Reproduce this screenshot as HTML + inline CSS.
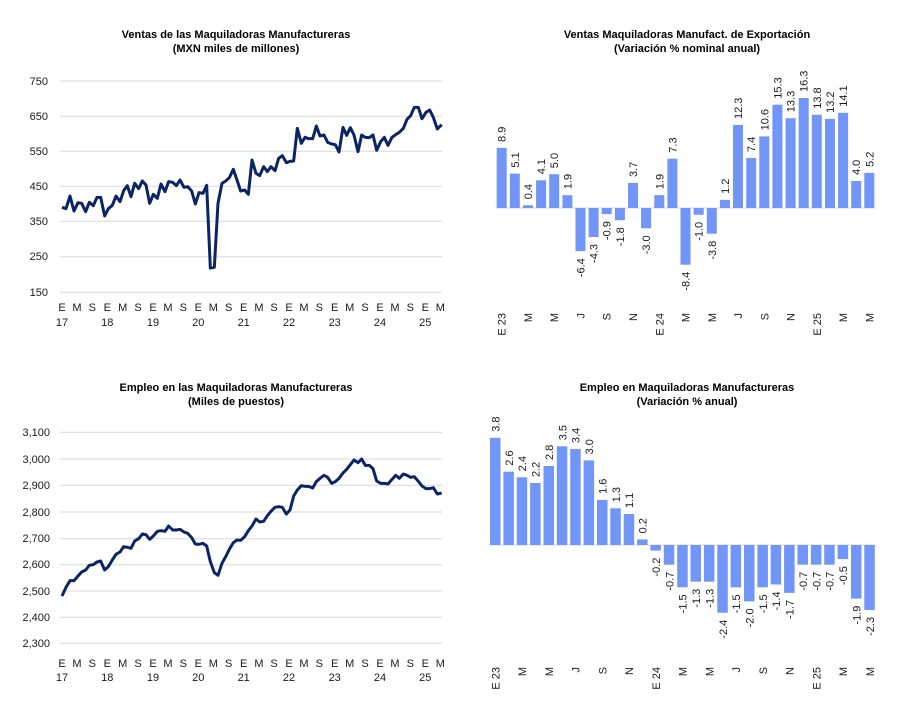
<!DOCTYPE html>
<html><head><meta charset="utf-8"><style>
html,body{margin:0;padding:0;background:#fff;}
svg{display:block;font-family:"Liberation Sans",sans-serif;}
.t{font-size:11px;font-weight:bold;fill:#000;text-anchor:middle;}
.ax{font-size:11px;fill:#1a1a1a;}
.r{text-anchor:end;}
.m{text-anchor:middle;}
.v{font-size:11px;fill:#1a1a1a;}
.b{fill:#7295f8;}
</style></head><body>
<svg width="900" height="708" viewBox="0 0 900 708" xmlns="http://www.w3.org/2000/svg">
<!-- TITLES -->
<text class="t" x="236" y="38">Ventas de las Maquiladoras Manufactureras</text>
<text class="t" x="236" y="52">(MXN miles de millones)</text>
<text class="t" x="687" y="38">Ventas Maquiladoras Manufact. de Exportación</text>
<text class="t" x="687" y="52">(Variación % nominal anual)</text>
<text class="t" x="236" y="391">Empleo en las Maquiladoras Manufactureras</text>
<text class="t" x="236" y="405">(Miles de puestos)</text>
<text class="t" x="687" y="391">Empleo en Maquiladoras Manufactureras</text>
<text class="t" x="687" y="405">(Variación % anual)</text>

<!-- TOP LEFT -->
<g stroke="#d9d9d9" stroke-width="1">
<line x1="60" x2="442" y1="81" y2="81"/><line x1="60" x2="442" y1="116.3" y2="116.3"/><line x1="60" x2="442" y1="151.3" y2="151.3"/><line x1="60" x2="442" y1="186.3" y2="186.3"/><line x1="60" x2="442" y1="221.3" y2="221.3"/><line x1="60" x2="442" y1="256.7" y2="256.7"/><line x1="60" x2="442" y1="292.3" y2="292.3"/>
</g>
<g class="ax r">
<text x="48" y="85">750</text><text x="48" y="120">650</text><text x="48" y="155">550</text><text x="48" y="190">450</text><text x="48" y="225">350</text><text x="48" y="260">250</text><text x="48" y="296">150</text>
</g>
<g transform="translate(0,20) scale(0.33333)">
<polyline fill="none" stroke="#0b2466" stroke-width="9" stroke-linejoin="round" points="186,562 198,566 210,528 222,573 234,548 245,550 257,575 268,547 280,557 291,532 302,532 314,588 325,566 337,556 348,528 360,545 371,512 382,497 393,530 404,490 416,506 427,483 438,495 449,550 460,523 472,535 483,492 495,515 506,485 518,487 529,497 540,480 552,502 563,500 575,513 586,552 597,518 609,520 620,496 631,744 643,742 654,550 666,490 677,483 688,473 700,448 711,480 722,513 734,510 745,523 756,420 768,460 779,467 791,440 802,455 813,440 825,452 836,415 847,407 859,428 870,424 881,423 892,325 904,370 915,352 926,356 938,356 949,318 960,348 972,345 983,367 995,372 1006,374 1017,396 1029,322 1040,346 1051,323 1062,345 1074,395 1085,345 1096,352 1108,353 1119,345 1130,391 1142,365 1153,352 1164,376 1176,352 1187,344 1198,337 1210,325 1221,298 1232,287 1243,262 1255,262 1266,296 1278,277 1289,270 1300,292 1312,327 1325,314"/>
</g>
<g class="ax m">
<text x="62" y="311">E</text><text x="77" y="311">M</text><text x="92.3" y="311">S</text><text x="107.3" y="311">E</text><text x="122.7" y="311">M</text><text x="138" y="311">S</text><text x="153" y="311">E</text><text x="168" y="311">M</text><text x="183.3" y="311">S</text><text x="198.3" y="311">E</text><text x="213.3" y="311">M</text><text x="228.7" y="311">S</text><text x="243.7" y="311">E</text><text x="259" y="311">M</text><text x="274" y="311">S</text><text x="289" y="311">E</text><text x="304" y="311">M</text><text x="319.3" y="311">S</text><text x="334.7" y="311">E</text><text x="349.7" y="311">M</text><text x="365" y="311">S</text><text x="380" y="311">E</text><text x="395" y="311">M</text><text x="410.3" y="311">S</text><text x="425.3" y="311">E</text><text x="440.3" y="311">M</text>
<text x="62" y="326">17</text><text x="107.3" y="326">18</text><text x="153" y="326">19</text><text x="198.3" y="326">20</text><text x="243.7" y="326">21</text><text x="289" y="326">22</text><text x="334.7" y="326">23</text><text x="380" y="326">24</text><text x="425.3" y="326">25</text>
</g>

<!-- BOTTOM LEFT -->
<g stroke="#d9d9d9" stroke-width="1">
<line x1="60" x2="442" y1="432.3" y2="432.3"/><line x1="60" x2="442" y1="459" y2="459"/><line x1="60" x2="442" y1="485.3" y2="485.3"/><line x1="60" x2="442" y1="512" y2="512"/><line x1="60" x2="442" y1="538.7" y2="538.7"/><line x1="60" x2="442" y1="564.7" y2="564.7"/><line x1="60" x2="442" y1="591" y2="591"/><line x1="60" x2="442" y1="617.3" y2="617.3"/><line x1="60" x2="442" y1="643.3" y2="643.3"/>
</g>
<g class="ax r">
<text x="50" y="436">3,100</text><text x="50" y="463">3,000</text><text x="50" y="489">2,900</text><text x="50" y="516">2,800</text><text x="50" y="542">2,700</text><text x="50" y="568">2,600</text><text x="50" y="595">2,500</text><text x="50" y="621">2,400</text><text x="50" y="647">2,300</text>
</g>
<g transform="translate(0,370) scale(0.33333)">
<polyline fill="none" stroke="#0b2466" stroke-width="9" stroke-linejoin="round" points="186,678 198,652 210,632 222,632 234,618 245,606 257,600 268,586 280,584 291,576 302,573 314,600 325,590 337,570 348,553 360,546 371,530 382,532 393,535 404,513 416,506 427,492 438,494 449,508 460,498 472,484 483,482 495,484 506,468 518,480 529,480 540,478 552,486 563,490 575,503 586,522 597,523 609,520 620,528 631,575 643,608 654,616 666,580 677,560 688,538 700,518 711,510 722,511 734,500 745,482 756,468 768,447 779,456 791,454 802,437 813,424 825,412 836,410 847,412 859,432 870,420 881,378 892,360 904,347 915,349 926,349 938,354 949,335 960,325 972,316 983,322 995,340 1006,335 1017,325 1029,309 1040,298 1051,284 1062,270 1074,278 1085,267 1096,286 1108,286 1119,296 1130,333 1142,340 1153,340 1164,342 1176,328 1187,316 1198,325 1210,312 1221,316 1232,322 1243,320 1255,334 1266,348 1278,356 1289,356 1300,353 1312,372 1325,369"/>
</g>
<g class="ax m">
<text x="62" y="667">E</text><text x="77" y="667">M</text><text x="92.3" y="667">S</text><text x="107.3" y="667">E</text><text x="122.7" y="667">M</text><text x="138" y="667">S</text><text x="153" y="667">E</text><text x="168" y="667">M</text><text x="183.3" y="667">S</text><text x="198.3" y="667">E</text><text x="213.3" y="667">M</text><text x="228.7" y="667">S</text><text x="243.7" y="667">E</text><text x="259" y="667">M</text><text x="274" y="667">S</text><text x="289" y="667">E</text><text x="304" y="667">M</text><text x="319.3" y="667">S</text><text x="334.7" y="667">E</text><text x="349.7" y="667">M</text><text x="365" y="667">S</text><text x="380" y="667">E</text><text x="395" y="667">M</text><text x="410.3" y="667">S</text><text x="425.3" y="667">E</text><text x="440.3" y="667">M</text>
<text x="62" y="681">17</text><text x="107.3" y="681">18</text><text x="153" y="681">19</text><text x="198.3" y="681">20</text><text x="243.7" y="681">21</text><text x="289" y="681">22</text><text x="334.7" y="681">23</text><text x="380" y="681">24</text><text x="425.3" y="681">25</text>
</g>

<!-- TOP RIGHT BARS -->
<line x1="495" x2="876" y1="208" y2="208" stroke="#d9d9d9" stroke-width="1"/>
<g class="b">
<rect x="496.7" y="147.9" width="10" height="60.1"/>
<rect x="509.8" y="173.6" width="10" height="34.4"/>
<rect x="523.0" y="205.3" width="10" height="2.7"/>
<rect x="536.1" y="180.3" width="10" height="27.7"/>
<rect x="549.2" y="174.2" width="10" height="33.8"/>
<rect x="562.4" y="195.2" width="10" height="12.8"/>
<rect x="575.5" y="208" width="10" height="43.2"/>
<rect x="588.6" y="208" width="10" height="29.0"/>
<rect x="601.7" y="208" width="10" height="6.1"/>
<rect x="614.9" y="208" width="10" height="12.2"/>
<rect x="628.0" y="183.0" width="10" height="25.0"/>
<rect x="641.1" y="208" width="10" height="20.3"/>
<rect x="654.3" y="195.2" width="10" height="12.8"/>
<rect x="667.4" y="158.7" width="10" height="49.3"/>
<rect x="680.5" y="208" width="10" height="56.7"/>
<rect x="693.7" y="208" width="10" height="6.8"/>
<rect x="706.8" y="208" width="10" height="25.7"/>
<rect x="719.9" y="199.9" width="10" height="8.1"/>
<rect x="733.0" y="125.0" width="10" height="83.0"/>
<rect x="746.2" y="158.0" width="10" height="50.0"/>
<rect x="759.3" y="136.4" width="10" height="71.6"/>
<rect x="772.4" y="104.7" width="10" height="103.3"/>
<rect x="785.6" y="118.2" width="10" height="89.8"/>
<rect x="798.7" y="98.0" width="10" height="110.0"/>
<rect x="811.8" y="114.8" width="10" height="93.2"/>
<rect x="825.0" y="118.9" width="10" height="89.1"/>
<rect x="838.1" y="112.8" width="10" height="95.2"/>
<rect x="851.2" y="181.0" width="10" height="27.0"/>
<rect x="864.3" y="172.9" width="10" height="35.1"/>
</g>
<g class="v">
<text x="505.7" y="141.9" transform="rotate(-90 505.7 141.9)">8.9</text>
<text x="518.8" y="167.6" transform="rotate(-90 518.8 167.6)">5.1</text>
<text x="532.0" y="199.3" transform="rotate(-90 532.0 199.3)">0.4</text>
<text x="545.1" y="174.3" transform="rotate(-90 545.1 174.3)">4.1</text>
<text x="558.2" y="168.2" transform="rotate(-90 558.2 168.2)">5.0</text>
<text x="571.4" y="189.2" transform="rotate(-90 571.4 189.2)">1.9</text>
<text x="584.5" y="258.2" text-anchor="end" transform="rotate(-90 584.5 258.2)">-6.4</text>
<text x="597.6" y="244.0" text-anchor="end" transform="rotate(-90 597.6 244.0)">-4.3</text>
<text x="610.7" y="221.1" text-anchor="end" transform="rotate(-90 610.7 221.1)">-0.9</text>
<text x="623.9" y="227.2" text-anchor="end" transform="rotate(-90 623.9 227.2)">-1.8</text>
<text x="637.0" y="177.0" transform="rotate(-90 637.0 177.0)">3.7</text>
<text x="650.1" y="235.3" text-anchor="end" transform="rotate(-90 650.1 235.3)">-3.0</text>
<text x="663.3" y="189.2" transform="rotate(-90 663.3 189.2)">1.9</text>
<text x="676.4" y="152.7" transform="rotate(-90 676.4 152.7)">7.3</text>
<text x="689.5" y="271.7" text-anchor="end" transform="rotate(-90 689.5 271.7)">-8.4</text>
<text x="702.7" y="221.8" text-anchor="end" transform="rotate(-90 702.7 221.8)">-1.0</text>
<text x="715.8" y="240.7" text-anchor="end" transform="rotate(-90 715.8 240.7)">-3.8</text>
<text x="728.9" y="193.9" transform="rotate(-90 728.9 193.9)">1.2</text>
<text x="742.0" y="119.0" transform="rotate(-90 742.0 119.0)">12.3</text>
<text x="755.2" y="152.0" transform="rotate(-90 755.2 152.0)">7.4</text>
<text x="768.3" y="130.4" transform="rotate(-90 768.3 130.4)">10.6</text>
<text x="781.4" y="98.7" transform="rotate(-90 781.4 98.7)">15.3</text>
<text x="794.6" y="112.2" transform="rotate(-90 794.6 112.2)">13.3</text>
<text x="807.7" y="92.0" transform="rotate(-90 807.7 92.0)">16.3</text>
<text x="820.8" y="108.8" transform="rotate(-90 820.8 108.8)">13.8</text>
<text x="834.0" y="112.9" transform="rotate(-90 834.0 112.9)">13.2</text>
<text x="847.1" y="106.8" transform="rotate(-90 847.1 106.8)">14.1</text>
<text x="860.2" y="175.0" transform="rotate(-90 860.2 175.0)">4.0</text>
<text x="873.3" y="166.9" transform="rotate(-90 873.3 166.9)">5.2</text>
</g>
<g class="v" text-anchor="end">
<text x="505.7" y="313" transform="rotate(-90 505.7 313)">E 23</text>
<text x="532.0" y="313" transform="rotate(-90 532.0 313)">M</text>
<text x="558.2" y="313" transform="rotate(-90 558.2 313)">M</text>
<text x="584.5" y="313" transform="rotate(-90 584.5 313)">J</text>
<text x="610.7" y="313" transform="rotate(-90 610.7 313)">S</text>
<text x="637.0" y="313" transform="rotate(-90 637.0 313)">N</text>
<text x="663.3" y="313" transform="rotate(-90 663.3 313)">E 24</text>
<text x="689.5" y="313" transform="rotate(-90 689.5 313)">M</text>
<text x="715.8" y="313" transform="rotate(-90 715.8 313)">M</text>
<text x="742.0" y="313" transform="rotate(-90 742.0 313)">J</text>
<text x="768.3" y="313" transform="rotate(-90 768.3 313)">S</text>
<text x="794.6" y="313" transform="rotate(-90 794.6 313)">N</text>
<text x="820.8" y="313" transform="rotate(-90 820.8 313)">E 25</text>
<text x="847.1" y="313" transform="rotate(-90 847.1 313)">M</text>
<text x="873.3" y="313" transform="rotate(-90 873.3 313)">M</text>
</g>

<!-- BOTTOM RIGHT BARS -->
<line x1="489" x2="876" y1="545" y2="545" stroke="#d9d9d9" stroke-width="1"/>
<g class="b">
<rect x="490.0" y="437.8" width="10.5" height="107.2"/>
<rect x="503.4" y="471.7" width="10.5" height="73.3"/>
<rect x="516.7" y="477.3" width="10.5" height="67.7"/>
<rect x="530.1" y="483.0" width="10.5" height="62.0"/>
<rect x="543.5" y="466.0" width="10.5" height="79.0"/>
<rect x="556.8" y="446.3" width="10.5" height="98.7"/>
<rect x="570.2" y="449.1" width="10.5" height="95.9"/>
<rect x="583.6" y="460.4" width="10.5" height="84.6"/>
<rect x="597.0" y="499.9" width="10.5" height="45.1"/>
<rect x="610.3" y="508.3" width="10.5" height="36.7"/>
<rect x="623.7" y="514.0" width="10.5" height="31.0"/>
<rect x="637.1" y="539.4" width="10.5" height="5.6"/>
<rect x="650.4" y="545" width="10.5" height="5.6"/>
<rect x="663.8" y="545" width="10.5" height="19.7"/>
<rect x="677.2" y="545" width="10.5" height="42.3"/>
<rect x="690.5" y="545" width="10.5" height="36.7"/>
<rect x="703.9" y="545" width="10.5" height="36.7"/>
<rect x="717.3" y="545" width="10.5" height="67.7"/>
<rect x="730.6" y="545" width="10.5" height="42.3"/>
<rect x="744.0" y="545" width="10.5" height="56.4"/>
<rect x="757.4" y="545" width="10.5" height="42.3"/>
<rect x="770.7" y="545" width="10.5" height="39.5"/>
<rect x="784.1" y="545" width="10.5" height="47.9"/>
<rect x="797.5" y="545" width="10.5" height="19.7"/>
<rect x="810.9" y="545" width="10.5" height="19.7"/>
<rect x="824.2" y="545" width="10.5" height="19.7"/>
<rect x="837.6" y="545" width="10.5" height="14.1"/>
<rect x="851.0" y="545" width="10.5" height="53.6"/>
<rect x="864.3" y="545" width="10.5" height="64.9"/>
</g>
<g class="v">
<text x="499.5" y="431.8" transform="rotate(-90 499.5 431.8)">3.8</text>
<text x="512.9" y="465.7" transform="rotate(-90 512.9 465.7)">2.6</text>
<text x="526.2" y="471.3" transform="rotate(-90 526.2 471.3)">2.4</text>
<text x="539.6" y="477.0" transform="rotate(-90 539.6 477.0)">2.2</text>
<text x="553.0" y="460.0" transform="rotate(-90 553.0 460.0)">2.8</text>
<text x="566.3" y="440.3" transform="rotate(-90 566.3 440.3)">3.5</text>
<text x="579.7" y="443.1" transform="rotate(-90 579.7 443.1)">3.4</text>
<text x="593.1" y="454.4" transform="rotate(-90 593.1 454.4)">3.0</text>
<text x="606.5" y="493.9" transform="rotate(-90 606.5 493.9)">1.6</text>
<text x="619.8" y="502.3" transform="rotate(-90 619.8 502.3)">1.3</text>
<text x="633.2" y="508.0" transform="rotate(-90 633.2 508.0)">1.1</text>
<text x="646.6" y="533.4" transform="rotate(-90 646.6 533.4)">0.2</text>
<text x="659.9" y="557.6" text-anchor="end" transform="rotate(-90 659.9 557.6)">-0.2</text>
<text x="673.3" y="571.7" text-anchor="end" transform="rotate(-90 673.3 571.7)">-0.7</text>
<text x="686.7" y="594.3" text-anchor="end" transform="rotate(-90 686.7 594.3)">-1.5</text>
<text x="700.0" y="588.7" text-anchor="end" transform="rotate(-90 700.0 588.7)">-1.3</text>
<text x="713.4" y="588.7" text-anchor="end" transform="rotate(-90 713.4 588.7)">-1.3</text>
<text x="726.8" y="619.7" text-anchor="end" transform="rotate(-90 726.8 619.7)">-2.4</text>
<text x="740.1" y="594.3" text-anchor="end" transform="rotate(-90 740.1 594.3)">-1.5</text>
<text x="753.5" y="608.4" text-anchor="end" transform="rotate(-90 753.5 608.4)">-2.0</text>
<text x="766.9" y="594.3" text-anchor="end" transform="rotate(-90 766.9 594.3)">-1.5</text>
<text x="780.2" y="591.5" text-anchor="end" transform="rotate(-90 780.2 591.5)">-1.4</text>
<text x="793.6" y="599.9" text-anchor="end" transform="rotate(-90 793.6 599.9)">-1.7</text>
<text x="807.0" y="571.7" text-anchor="end" transform="rotate(-90 807.0 571.7)">-0.7</text>
<text x="820.4" y="571.7" text-anchor="end" transform="rotate(-90 820.4 571.7)">-0.7</text>
<text x="833.7" y="571.7" text-anchor="end" transform="rotate(-90 833.7 571.7)">-0.7</text>
<text x="847.1" y="566.1" text-anchor="end" transform="rotate(-90 847.1 566.1)">-0.5</text>
<text x="860.5" y="605.6" text-anchor="end" transform="rotate(-90 860.5 605.6)">-1.9</text>
<text x="873.8" y="616.9" text-anchor="end" transform="rotate(-90 873.8 616.9)">-2.3</text>
</g>
<g class="v" text-anchor="end">
<text x="499.5" y="667" transform="rotate(-90 499.5 667)">E 23</text>
<text x="526.2" y="667" transform="rotate(-90 526.2 667)">M</text>
<text x="553.0" y="667" transform="rotate(-90 553.0 667)">M</text>
<text x="579.7" y="667" transform="rotate(-90 579.7 667)">J</text>
<text x="606.5" y="667" transform="rotate(-90 606.5 667)">S</text>
<text x="633.2" y="667" transform="rotate(-90 633.2 667)">N</text>
<text x="659.9" y="667" transform="rotate(-90 659.9 667)">E 24</text>
<text x="686.7" y="667" transform="rotate(-90 686.7 667)">M</text>
<text x="713.4" y="667" transform="rotate(-90 713.4 667)">M</text>
<text x="740.1" y="667" transform="rotate(-90 740.1 667)">J</text>
<text x="766.9" y="667" transform="rotate(-90 766.9 667)">S</text>
<text x="793.6" y="667" transform="rotate(-90 793.6 667)">N</text>
<text x="820.4" y="667" transform="rotate(-90 820.4 667)">E 25</text>
<text x="847.1" y="667" transform="rotate(-90 847.1 667)">M</text>
<text x="873.8" y="667" transform="rotate(-90 873.8 667)">M</text>
</g>
</svg>
</body></html>
